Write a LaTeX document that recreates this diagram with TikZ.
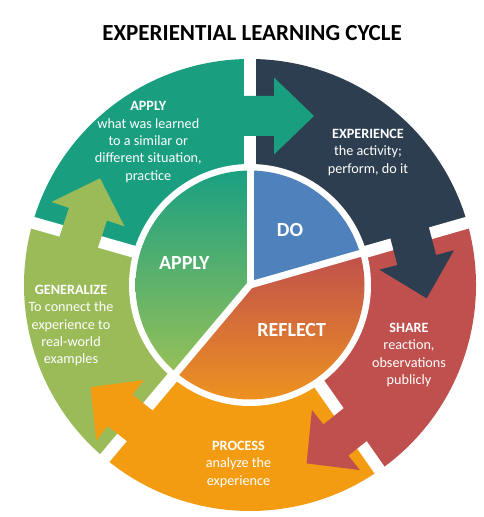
\documentclass[tikz,border=0pt]{standalone}
\usepackage{fontspec}
\setmainfont{Carlito}
\usetikzlibrary{calc}
\definecolor{cteal}{RGB}{26,158,128}
\definecolor{cnavy}{RGB}{45,62,80}
\definecolor{cred}{RGB}{192,80,77}
\definecolor{corange}{RGB}{243,156,18}
\definecolor{cgreen}{RGB}{155,187,89}
\definecolor{cblue}{RGB}{79,129,189}
\definecolor{capplytop}{RGB}{26,160,130}
\definecolor{capplybot}{RGB}{150,192,88}
\definecolor{creftop}{RGB}{192,80,77}
\definecolor{crefbot}{RGB}{242,152,28}
\newcommand\flowarrow[5]{%
  \begin{scope}[shift={(#2,#3)},rotate=#4]
    \fill[#1] (-60,-20) -- (0,-20) -- (0,-38.5) -- (#5,0) -- (0,38.5) -- (0,20) -- (-60,20) -- cycle;
  \end{scope}}
\tikzset{
  lbl/.style={text=white, align=center, font=\fontsize{14.2}{17.3}\selectfont, inner sep=0pt},
  inlbl/.style={text=white, font=\fontsize{20}{24}\selectfont\bfseries, inner sep=0pt},
  gapline/.style={white, line width=12pt},
  divline/.style={white, line width=7pt}
}
\begin{document}
\begin{tikzpicture}[x=1pt,y=1pt]
\useasboundingbox (0,0) rectangle (483,517);
\coordinate (C) at (250,232);
% outer ring segments
\fill[cteal] (C) -- ($(C)+(90:226pt)$) arc[start angle=90,end angle=164,radius=226pt] -- cycle;
\fill[cgreen] (C) -- ($(C)+(164:226pt)$) arc[start angle=164,end angle=230,radius=226pt] -- cycle;
\fill[corange] (C) -- ($(C)+(230:226pt)$) arc[start angle=230,end angle=305,radius=226pt] -- cycle;
\fill[cred] (C) -- ($(C)+(305:226pt)$) arc[start angle=305,end angle=376,radius=226pt] -- cycle;
\fill[cnavy] (C) -- ($(C)+(16:226pt)$) arc[start angle=16,end angle=90,radius=226pt] -- cycle;
% gaps
\foreach \a in {90,16,305,230,164}
  \draw[gapline] (C) -- ($(C)+(\a:232pt)$);
% arrows
\flowarrow{cteal}{274}{401}{0}{40}
\flowarrow{cnavy}{416.7}{257}{-75.4}{39.6}
\flowarrow{cred}{335.9}{77}{-141.4}{37.5}
\flowarrow{corange}{120}{106.7}{141.8}{37.5}
\flowarrow{cgreen}{88}{302.8}{71.5}{37.9}
% inner circle
\fill[white] (C) circle[radius=121pt];
\fill[cblue] (C) -- ($(C)+(16:114.5pt)$) arc[start angle=16,end angle=90,radius=114.5pt] -- cycle;
\shade[top color=capplytop, bottom color=capplybot] (C) -- ($(C)+(90:114.5pt)$) arc[start angle=90,end angle=230,radius=114.5pt] -- cycle;
\shade[top color=creftop, bottom color=crefbot] (C) -- ($(C)+(230:114.5pt)$) arc[start angle=230,end angle=376,radius=114.5pt] -- cycle;
\foreach \a in {90,16,230}
  \draw[divline] (C) -- ($(C)+(\a:118pt)$);
% title
\node[inner sep=0pt, font=\fontsize{23}{27}\selectfont\bfseries] (title) at (252,484) {EXPERIENTIAL LEARNING CYCLE};
% inner labels
\node[inlbl] (ido) at (290,287) {DO};
\node[inlbl] (iapply) at (184.3,253.7) {APPLY};
\node[inlbl] (ireflect) at (291.7,187) {REFLECT};
% outer labels
\node[lbl] (tapply) at (148.3,375) {\textbf{APPLY}\\what was learned\\to a similar or\\different situation,\\practice};
\node[lbl] (texp) at (368,364.8) {\textbf{EXPERIENCE}\\the activity;\\perform, do it};
\node[lbl] (tshare) at (409,162.1) {\textbf{SHARE}\\reaction,\\observations\\publicly};
\node[lbl] (tproc) at (238.5,52.8) {\textbf{PROCESS}\\analyze the\\experience};
\node[lbl] (tgen) at (71,191.5) {\textbf{GENERALIZE}\\To connect the\\experience to\\real-world\\examples};
\end{tikzpicture}
\end{document}
